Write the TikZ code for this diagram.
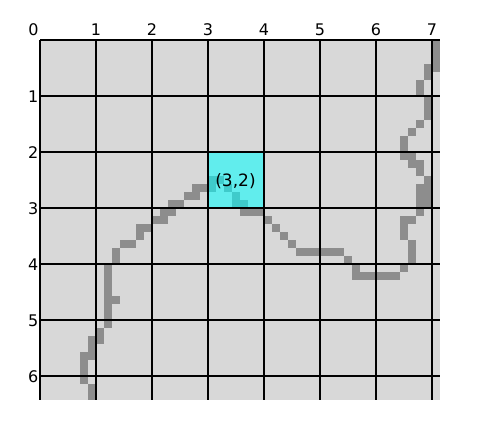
\documentclass[tikz,border=0pt]{standalone}
\usepackage{fontspec}
\setmainfont{DejaVu Sans}
\definecolor{bggray}{RGB}{216,216,216}
\definecolor{pathgray}{RGB}{141,141,141}
\definecolor{hicyan}{RGB}{0,255,255}
\begin{document}
\begin{tikzpicture}[x=1pt,y=-1pt,
  lbl/.style={font=\fontsize{16}{16}\selectfont, inner sep=0pt},
  gridline/.style={black, line width=1.3pt},
  pix/.style={fill=pathgray, draw=none}]
\useasboundingbox (0,0) rectangle (480,440);
\fill[bggray] (40,40) rectangle (440,400);
% dark path pixels (col/row), each 8x8
\foreach \c/\r in {49/0,49/1,49/2,49/3,48/3,48/4,47/5,47/6,48/7,48/8,48/9,47/10,46/11,
  45/12,45/13,45/14,46/14,46/15,47/15,47/16,48/17,48/18,48/19,48/20,47/18,47/19,47/20,47/21,
  46/22,45/22,45/23,45/24,46/25,46/26,46/27,45/28,
  44/29,43/29,42/29,41/29,40/29,39/29,39/28,38/27,
  37/26,36/26,35/26,34/26,33/26,32/26,31/25,30/24,29/23,28/22,
  27/21,26/21,25/21,25/20,24/20,24/19,23/18,22/17,21/17,21/18,20/18,19/18,19/19,18/19,
  17/20,16/20,16/21,15/21,15/22,14/22,13/23,12/23,12/24,11/25,10/25,9/26,9/27,
  8/28,8/29,8/30,8/31,8/32,9/32,8/33,8/34,8/35,7/36,7/37,6/37,6/38,6/39,
  5/39,5/40,5/41,5/42,6/43,6/44}
  \fill[pix] ({40+8*\c},{40+8*\r}) rectangle ++(8,8);
% highlighted cell
\fill[hicyan, fill opacity=0.55] (208,152) rectangle (264,208);
% grid
\foreach \i in {0,...,7} \draw[gridline] ({40+56*\i},40) -- ({40+56*\i},400);
\foreach \j in {0,...,6} \draw[gridline] (40,{40+56*\j}) -- (440,{40+56*\j});
% labels
\node[lbl] (t0) at (33.5,30) {0};
\foreach \i in {1,...,7} \node[lbl] (t\i) at ({40+56*\i},30) {\i};
\foreach \j in {1,...,6} \node[lbl, anchor=east] (l\j) at (38.5,{40+56*\j+0.5}) {\j};
\node[lbl, font=\fontsize{17}{17}\selectfont] (cell) at (235.5,181) {(3,2)};
\end{tikzpicture}
\end{document}
